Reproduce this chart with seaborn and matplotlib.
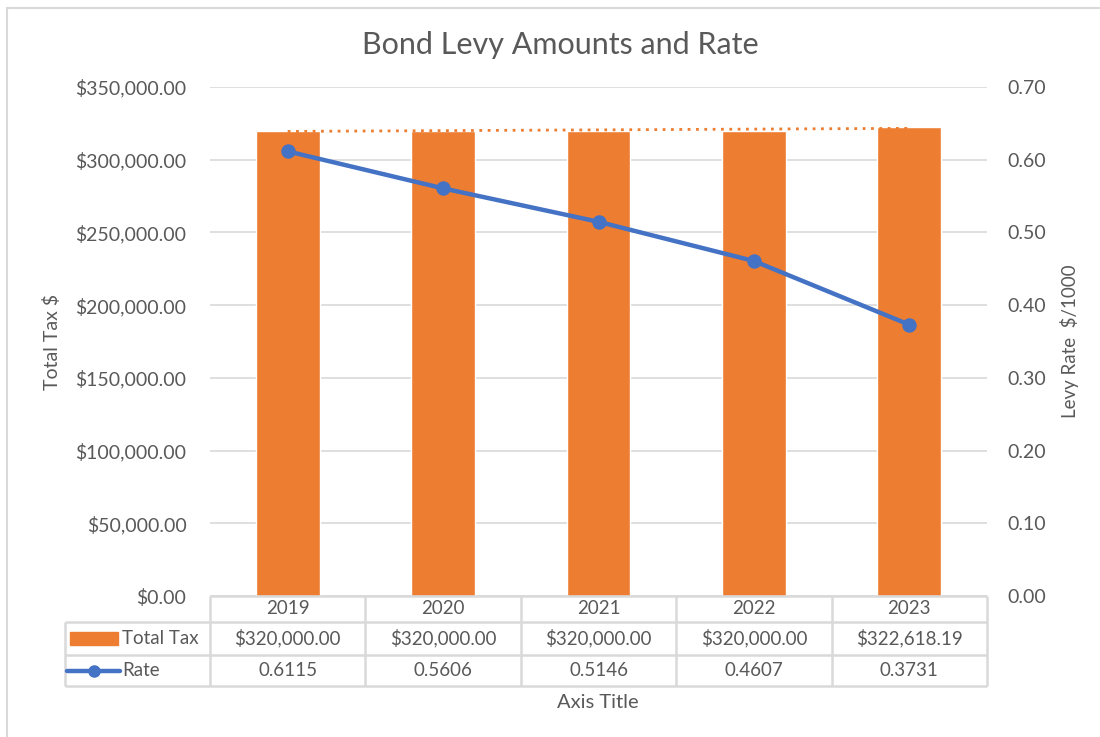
import numpy as np
import pandas as pd
import matplotlib
matplotlib.use("Agg")
import matplotlib.pyplot as plt
import seaborn as sns
from matplotlib.patches import Rectangle
from matplotlib.lines import Line2D

# datos
years = ["2019", "2020", "2021", "2022", "2023"]
total_tax = [320000.00, 320000.00, 320000.00, 320000.00, 322618.19]
rate = [0.6115, 0.5606, 0.5146, 0.4607, 0.3731]
total_tax_labels = ["$320,000.00", "$320,000.00", "$320,000.00", "$320,000.00", "$322,618.19"]
rate_labels = ["0.6115", "0.5606", "0.5146", "0.4607", "0.3731"]

sns.set_style("white")
plt.rcParams['font.family'] = ['Lato', 'DejaVu Sans']

GRIS = "#595959"
LINEA = "#D9D9D9"
NARANJA = "#ED7D31"
AZUL = "#4472C4"

df = pd.DataFrame({"Year": years, "Total Tax": total_tax, "Rate": rate})

W, H = 1100, 737
fig = plt.figure(figsize=(11, 7.37), dpi=100)

# borde exterior
fig.patches.append(Rectangle((7 / W, -0.1), 1.2, (737 - 8) / H + 0.1, transform=fig.transFigure,
                             fill=False, edgecolor=LINEA, lw=1.5))

x0, x1 = 210, 987
ytop, ybot = 87, 596
ax = fig.add_axes([x0 / W, (H - ybot) / H, (x1 - x0) / W, (ybot - ytop) / H])

sns.barplot(data=df, x="Year", y="Total Tax", color=NARANJA, width=0.41, saturation=1, ax=ax, zorder=2)

# linea de tendencia
xs = np.arange(len(years))
coef = np.polyfit(xs, total_tax, 1)
ax.plot(xs, np.polyval(coef, xs), linestyle=(0, (1, 2)), color=NARANJA, lw=2, zorder=3)

fs_tick = 14
ax.set_ylim(0, 350000)
ax.set_yticks(np.arange(0, 350001, 50000))
ax.set_yticklabels([f"${v:,.2f}" for v in np.arange(0, 350001, 50000)])
ax.set_xlim(-0.5, 4.5)
ax.set_xticks([])
ax.set_xlabel("")
ax.set_ylabel("Total Tax $", fontsize=14, color=GRIS, labelpad=10)
ax.grid(axis="y", color=LINEA, lw=1.2, zorder=0)
ax.set_axisbelow(True)
ax.tick_params(axis="y", length=0, pad=17, labelsize=fs_tick, labelcolor=GRIS)
for s in ax.spines.values():
    s.set_visible(False)

ax2 = ax.twinx()
sns.pointplot(data=df, x="Year", y="Rate", color=AZUL, markers="o", linestyles="-", ax=ax2,
              markersize=8, linewidth=3.2)
ax2.set_ylim(0, 0.7)
ax2.set_xlim(-0.5, 4.5)
ax2.set_yticks(np.arange(0, 0.701, 0.1))
ax2.set_yticklabels([f"{v:.2f}" for v in np.arange(0, 0.701, 0.1)])
ax2.set_xticks([])
ax2.set_xlabel("")
ax2.set_ylabel("Levy Rate  $/1000", fontsize=13.5, color=GRIS, labelpad=10)
ax2.tick_params(axis="y", length=0, pad=15, labelsize=fs_tick, labelcolor=GRIS)
ax2.grid(False)
for s in ax2.spines.values():
    s.set_visible(False)

# tabla de datos
tt, tb = 596, 686
tab = fig.add_axes([x0 / W, (H - tb) / H, (x1 - x0) / W, (tb - tt) / H])
tab.set_xlim(-0.5, 4.5)
tab.set_ylim(tb - tt, 0)
tab.axis("off")
r1, r2, r3 = 26, 59, 90
left = -0.5 - (x0 - 65) / ((x1 - x0) / 5)
kw = dict(color=LINEA, lw=1.8, clip_on=False, solid_capstyle="butt")
tab.plot([-0.5, 4.5], [0, 0], **kw)
tab.plot([left, 4.5], [r1, r1], **kw)
tab.plot([left, 4.5], [r2, r2], **kw)
tab.plot([left, 4.5], [r3, r3], **kw)
tab.plot([left, left], [r1, r3], **kw)
for i in range(6):
    tab.plot([i - 0.5, i - 0.5], [0, r3], **kw)

fs = 13.5
for i in range(len(years)):
    tab.text(i, r1 / 2, years[i], ha="center", va="center", fontsize=fs, color=GRIS)
    tab.text(i, (r1 + r2) / 2, total_tax_labels[i], ha="center", va="center", fontsize=fs, color=GRIS)
    tab.text(i, (r2 + r3) / 2, rate_labels[i], ha="center", va="center", fontsize=fs, color=GRIS)

px = (x1 - x0) / 5
def cx(p):
    return -0.5 + (p - x0) / px

tab.add_patch(Rectangle((cx(70), (r1 + r2) / 2 - 6.5), cx(118) - cx(70), 13, color=NARANJA, clip_on=False))
tab.text(cx(122), (r1 + r2) / 2, "Total Tax", ha="left", va="center", fontsize=fs, color=GRIS)
tab.add_line(Line2D([cx(67), cx(120)], [(r2 + r3) / 2] * 2, color=AZUL, lw=3.2, clip_on=False))
tab.add_line(Line2D([cx(93.5)], [(r2 + r3) / 2], color=AZUL, marker="o", markersize=8, clip_on=False))
tab.text(cx(122), (r2 + r3) / 2, "Rate", ha="left", va="center", fontsize=fs, color=GRIS)

fig.text(598 / W, 1 - 703 / H, "Axis Title", ha="center", va="center", fontsize=14.5, color=GRIS)
fig.text(560 / W, 1 - 45 / H, "Bond Levy Amounts and Rate", ha="center", va="center", fontsize=22, color=GRIS)

fig.savefig("out.png", dpi=100)
